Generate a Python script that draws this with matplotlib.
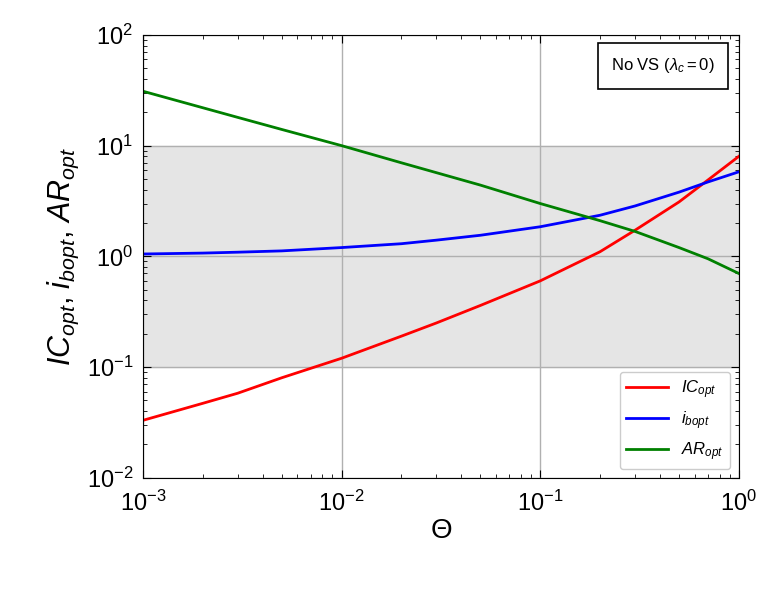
import matplotlib
matplotlib.use("Agg")
import matplotlib.pyplot as plt

plt.rcParams['font.family'] = ['Liberation Sans', 'DejaVu Sans']
plt.rcParams['mathtext.fontset'] = 'custom'
plt.rcParams['mathtext.it'] = 'Liberation Sans:italic'
plt.rcParams['mathtext.rm'] = 'Liberation Sans'

theta = [1e-3, 2e-3, 3e-3, 5e-3, 1e-2, 2e-2, 3e-2, 5e-2, 0.1, 0.2, 0.3, 0.5, 0.7, 1.0]
ic_opt = [0.033, 0.047, 0.058, 0.08, 0.12, 0.19, 0.25, 0.36, 0.6, 1.1, 1.72, 3.1, 4.9, 8.0]
ib_opt = [1.05, 1.07, 1.09, 1.12, 1.2, 1.3, 1.4, 1.55, 1.85, 2.35, 2.85, 3.8, 4.7, 5.8]
ar_opt = [31, 22, 18, 14, 10, 7.0, 5.7, 4.4, 3.0, 2.1, 1.68, 1.2, 0.95, 0.7]

fig = plt.figure(figsize=(7.81, 5.92), dpi=100)
ax = fig.add_axes([0.183, 0.193, 0.763, 0.748])
ax.axhspan(0.1, 10, color='#e5e5e5', zorder=0)
ax.plot(theta, ic_opt, color='red', lw=2, label=r'$IC_{opt}$')
ax.plot(theta, ib_opt, color='blue', lw=2, label=r'$i_{bopt}$')
ax.plot(theta, ar_opt, color='green', lw=2, label=r'$AR_{opt}$')
ax.set_xscale('log')
ax.set_yscale('log')
ax.set_xlim(1e-3, 1)
ax.set_ylim(1e-2, 1e2)
ax.grid(True, which='major', color='#b0b0b0', lw=1)
ax.set_axisbelow(True)
ax.tick_params(which='both', direction='in', top=True, right=True, labelsize=17)
ax.tick_params(which='major', length=6)
ax.tick_params(which='minor', length=3)
ax.tick_params(axis='x', pad=9)
ax.tick_params(axis='y', pad=7)
ax.set_xlabel(r'$\Theta$', fontsize=20, labelpad=2)
ax.set_ylabel(r'$IC_{opt}$, $i_{bopt}$, $AR_{opt}$', fontsize=22)
ax.legend(loc='lower right', fontsize=12, framealpha=1, handlelength=2.5)
ax.text(0.96, 0.93, r'No VS ($\lambda_c = 0$)', transform=ax.transAxes, ha='right', va='center',
        fontsize=12, bbox=dict(boxstyle='square,pad=0.8', fc='white', ec='black', lw=1.2))
fig.savefig('out.png', dpi=100)
